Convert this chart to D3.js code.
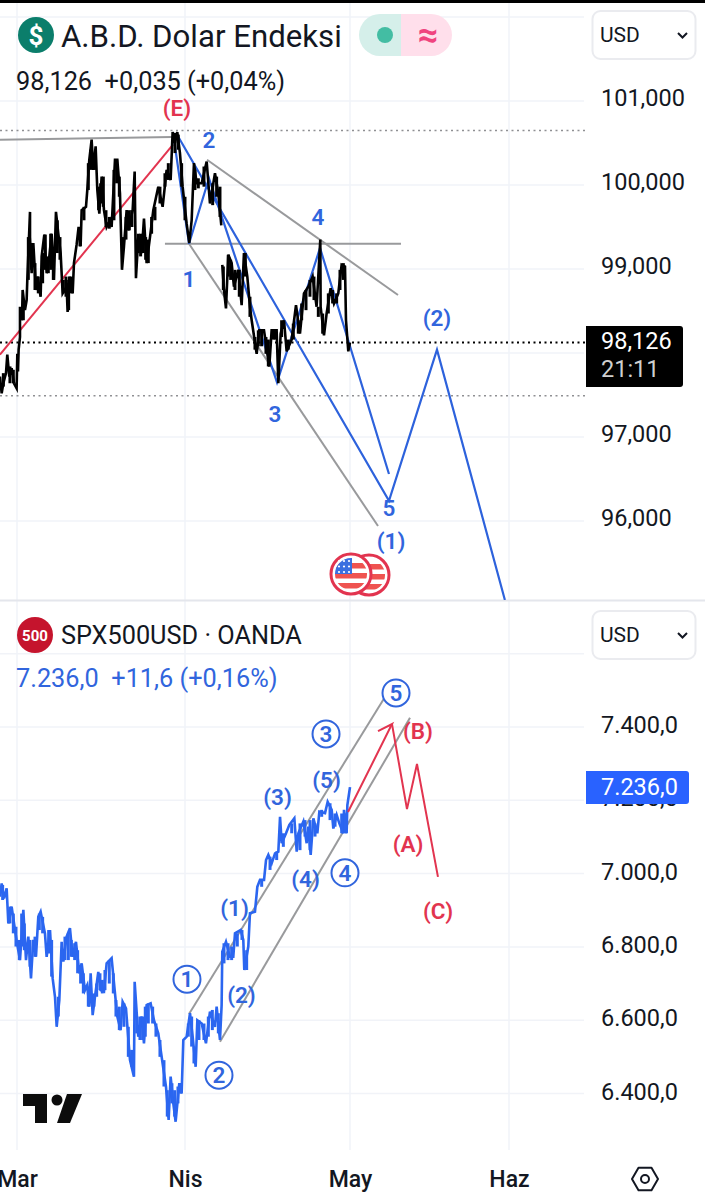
<!DOCTYPE html>
<html><head><meta charset="utf-8">
<script src="https://cdnjs.cloudflare.com/ajax/libs/d3/7.8.5/d3.min.js"></script>
<style>html,body{margin:0;padding:0;background:#fff}svg{display:block;font-family:Roboto,sans-serif}</style>
</head><body><svg id="c" width="705" height="1200"></svg>
<script>
// ---- data ----
const monthTicks = ["Mar","Nis","May","Haz"];
const monthDays = [0,31,61,92];
const usdTicks = [101,100,99,97,96];
const usdGrid = [102,101,100,99,98,97,96];
const spxTicks = [7400,7200,7000,6800,6600,6400];
const spxGrid = [7600,7400,7200,7000,6800,6600,6400];

const usdDays = [-3.14,-2.83,-2.52,-2.03,-1.79,-1.42,-0.99,-0.56,-0.07,0.06,0.18,0.30,0.55,0.55,0.92,1.04,1.47,1.78,1.90,2.40,2.40,2.70,3.01,3.50,3.75,4.36,4.55,5.04,5.47,5.90,6.39,6.82,7.19,7.62,8.05,8.42,9.16,9.34,9.65,10.27,10.51,11.0,11.37,11.74,11.93,12.73,12.97,13.34,13.77,14.08,14.51,14.82,15.19,15.62,16.05,16.54,17.15,17.46,18.08,18.51,19.0,19.37,19.74,20.23,20.54,21.34,21.71,21.95,22.38,23.0,23.43,23.92,24.54,25.15,26.07,26.87,27.61,28.35,28.72,29.15,29.58,30.07,30.56,31.3,31.78,32.21,32.63,33.12,34.03,34.94,35.54,36.45,37.06,37.6,37.7,37.78,38.09,38.45,38.87,39.48,39.9,40.69,41.3,41.72,42.33,42.81,43.12,44.03,44.51,45.36,46.33,46.75,47.66,47.97,48.39,49.0,49.48,50.39,51.18,51.9,52.63,53.42,54.21,54.93,55.6,55.66,56.27,56.75,57.48,58.09,58.87,59.48,60.09,60.27,60.69,61.0];
const usdValues = [97.72,97.52,97.64,97.76,97.98,97.72,97.82,97.64,97.58,97.99,97.78,98.04,98.19,98.55,98.39,98.75,98.51,98.63,98.87,99.68,99.38,98.95,99.31,98.75,98.91,98.67,99.15,99.41,98.95,99.11,99.42,98.87,99.68,99.42,99.19,98.71,98.79,98.49,98.91,98.71,99.07,99.29,99.50,99.27,99.70,99.74,99.94,100.30,100.54,100.18,100.46,99.94,99.66,100.10,99.70,99.50,99.58,99.50,100.30,100.30,99.90,98.99,99.27,99.70,99.46,99.70,100.16,98.89,99.38,99.19,99.60,99.07,99.38,99.70,99.98,99.74,100.18,100.06,100.63,100.50,100.63,100.38,99.98,99.54,99.31,99.58,100.26,100.02,100.02,100.28,99.78,100.14,99.90,99.52,null,99.05,98.75,98.53,99.17,99.07,98.79,98.99,98.57,99.19,98.91,98.55,98.39,97.99,98.27,98.27,97.84,98.27,98.27,97.64,98.23,98.39,98.02,98.16,98.57,98.23,98.71,98.79,98.91,98.55,99.35,98.55,98.21,98.47,98.77,98.59,98.71,99.05,99.03,98.39,98.02,98.126];
// per-session range bars
const usdBarDays = [-2.52,-1.30,-0.68,1.17,2.09,2.70,3.32,3.93,4.73,5.22,5.78,6.21,6.70,7.44,7.93,8.55,9.04,9.53,10.02,11.62,12.36,13.16,13.59,14.33,15.06,15.43,15.93,16.42,17.03,17.89,18.39,18.88,19.62,20.11,20.72,21.21,22.38,22.81,23.30,23.74,24.23,24.84,25.46,26.38,27.30,27.92,29.15,29.76,30.38,31.0,32.81,33.42,34.45,36.03,36.75,37.36,37.97,38.87,39.30,40.09,40.87,41.97,42.81,43.72,44.33,44.93,45.72,46.15,47.06,47.36,48.57,49.78,50.69,51.6,52.21,53.0,53.72,54.45,55.24,56.03,57.06,57.84,58.57,59.18,59.79];
const usdBarLow = [97.60,97.64,97.64,98.39,98.87,98.99,98.75,98.71,98.83,98.99,98.95,98.99,98.87,99.19,99.11,98.71,98.67,98.51,98.71,99.27,99.58,99.94,100.18,100.18,99.70,99.78,99.74,99.50,99.48,99.58,100.02,99.86,99.23,99.35,99.46,99.50,99.19,99.15,99.19,99.11,99.07,99.42,99.58,99.78,99.98,100.06,100.38,100.42,99.98,99.58,99.94,99.96,99.98,99.76,99.86,99.62,98.75,98.91,98.87,98.75,98.67,98.91,98.43,98.04,98.08,98.08,97.99,97.84,98.16,98.16,98.19,98.04,98.16,98.23,98.39,98.51,98.67,98.63,98.43,98.23,98.47,98.59,98.59,98.75,98.87];
const usdBarHigh = [97.76,97.84,97.80,98.63,99.38,99.31,99.07,98.91,99.19,99.41,99.15,99.42,99.23,99.58,99.38,98.87,98.91,98.87,98.91,99.50,99.74,100.26,100.42,100.38,99.98,100.02,100.10,99.70,99.62,100.18,100.30,100.10,99.38,99.62,99.70,99.70,99.42,99.42,99.42,99.38,99.35,99.62,99.74,99.98,100.14,100.26,100.62,100.60,100.26,99.86,100.18,100.08,100.22,100.02,100.10,99.98,99.03,99.17,99.11,98.99,98.99,99.19,98.67,98.19,98.27,98.27,98.19,98.16,98.27,98.27,98.39,98.16,98.35,98.39,98.59,98.75,98.87,98.91,98.55,98.47,98.71,98.75,98.71,98.99,99.07];

const spxDays = [-3.14,-2.83,-2.40,-1.91,-1.60,-0.99,-0.37,0.06,0.55,1.17,1.66,2.09,2.58,3.01,3.50,3.93,4.36,5.16,5.47,6.09,6.58,7.01,7.32,7.81,8.24,8.55,9.16,9.77,10.27,10.88,11.5,11.93,12.54,12.97,13.34,13.59,13.96,14.39,15.0,15.43,16.05,16.54,17.46,18.08,18.51,19.12,19.49,20.11,20.85,21.58,21.71,22.38,23.0,23.43,23.92,24.66,25.27,26.07,26.87,27.49,27.98,28.35,28.84,29.27,29.95,30.38,30.69,31.3,31.91,32.39,32.94,33.24,34.03,34.81,35.54,36.45,36.75,37.36,37.66,37.78,38.45,39.18,39.78,40.09,41.12,41.6,41.78,42.51,42.81,43.72,44.15,44.64,45.37,45.73,46.15,46.76,47.37,47.97,48.28,48.58,49.37,49.97,50.88,51.31,51.61,52.52,53.12,53.43,53.85,54.34,55.06,55.43,56.46,56.94,57.67,57.97,58.58,59.06,59.79,59.91,60.39,60.52,61.0];
const spxValues = [6937,6973,6932,6960,6864,6910,6846,6805,6764,6901,6764,6828,6714,6819,6773,6882,6896,6837,6773,6846,6714,6664,6582,6655,6814,6760,6828,6851,6773,6814,6728,6755,6682,6696,6637,6728,6614,6664,6732,6682,6678,6755,6769,6673,6610,6573,6650,6632,6491,6446,6705,6555,6610,6537,6641,6646,6600,6564,6482,6419,6328,6446,6373,6323,6428,6400,6546,6555,6619,6555,6473,6600,6591,6537,6623,6582,6637,6546,6641,6787,6814,6773,6773,6837,6846,6819,6737,6801,6892,6896,6964,6983,6983,7037,7051,7028,7055,7060,7155,7083,7110,7133,7151,7060,7110,7142,7083,7128,7051,7151,7110,7169,7165,7196,7174,7123,7160,7137,7110,7174,7110,7187,7236];
const spxBarDays = [-2.65,-1.30,-0.68,-0.19,0.43,0.86,1.35,2.40,3.32,4.12,4.73,5.84,6.39,7.62,8.85,9.47,10.02,10.64,11.19,11.74,12.24,13.16,14.20,14.70,15.31,15.74,16.23,17.03,17.77,18.26,18.88,19.74,20.54,21.15,22.08,22.69,23.18,23.67,24.23,25.03,25.64,26.38,27.12,27.73,28.59,29.09,29.70,30.19,31.60,32.21,32.63,33.54,34.45,35.24,35.97,37.06,38.09,38.82,39.48,40.51,41.36,42.21,44.94,46.46,47.67,48.88,50.40,51.91,52.82,53.73,54.64,55.85,57.37,58.28,59.49,60.15];
const spxBarLow = [6928,6864,6837,6801,6764,6801,6791,6746,6773,6846,6837,6782,6719,6610,6764,6764,6773,6764,6728,6700,6673,6637,6637,6664,6682,6673,6682,6700,6673,6610,6573,6582,6500,6473,6564,6546,6546,6555,6591,6591,6555,6500,6419,6337,6373,6337,6373,6400,6555,6528,6482,6546,6546,6555,6573,6564,6755,6764,6764,6801,6819,6737,6964,7010,7037,7073,7110,7064,7101,7064,7101,7155,7146,7128,7110,7110];
const spxBarHigh = [6969,6910,6891,6855,6819,6891,6864,6819,6828,6891,6882,6846,6819,6664,6828,6837,6819,6810,6791,6746,6728,6691,6673,6700,6728,6710,6737,6764,6728,6655,6637,6646,6582,6519,6610,6610,6610,6637,6646,6637,6591,6546,6491,6409,6428,6409,6419,6428,6591,6610,6528,6600,6591,6610,6628,6619,6810,6810,6801,6837,6846,6791,6983,7046,7060,7110,7137,7137,7146,7146,7137,7174,7192,7164,7164,7164];

// drawings: [day, value] pairs
const usdTopLine = [[-3.14,100.54],[28.6,100.57]];
const usdRedLine = [[-3.14,97.98],[28.78,100.48]];
const usdWaveA = [[28.78,100.63],[31.73,99.30],[35.36,100.08],[47.73,97.65],[55.55,99.25],[68.6,96.56]];
const usdWaveB = [[29.7,100.58],[68.6,96.24],[77.96,98.04],[91.2,95.06]];
const usdFlat = [[27.3,99.30],[70.94,99.30]];
const usdUpper = [[35,100.30],[70.36,98.69]];
const usdLower = [[31.73,99.30],[66.46,95.94]];
const usdHighLevel = 100.65, usdLast = 98.126, usdLowLevel = 97.49;

const spxChanUp = [[31.73,6617],[67.82,7482]];
const spxChanDown = [[37.36,6541],[72.7,7425]];
const spxArrow = [[60.64,7168],[69.19,7408],[66.46,7389]];
const spxCorr = [[69.19,7408],[72.11,7176],[74.06,7299],[78.15,6991]];

const usdLabelText = ["(E)","2","1","4","3","(2)","5","(1)"];
const usdLabelDay = [29.5,35.36,31.73,55.18,47.36,77.96,68.6,69.0];
const usdLabelVal = [100.92,100.54,98.88,99.62,97.27,98.42,96.15,95.76];
const spxCircText = ["1","2","3","4","5"];
const spxCircDay = [31.36,37.18,56.64,60.09,69.97];
const spxCircVal = [6712,6450,7381,7002,7493];
const spxBlueText = ["(1)","(2)","(3)","(4)","(5)"];
const spxBlueDay = [40,41.27,47.82,52.91,56.73];
const spxBlueVal = [6906,6669,7209,6985,7255];
const spxRedText = ["(A)","(B)","(C)"];
const spxRedDay = [72.31,74.26,78.15];
const spxRedVal = [7081,7389,6898];

// ---- scales ----
const BLUE="#2d62dc", LBL="#3165dd", RED="#e2344f", GRAY="#999a9c", SER="#2b66f0", GRID="#f1f3f8", INK="#131722";
const W=705, AX=584;
const date = d => new Date(Date.UTC(2026,2,1) + d*864e5);
const x = d3.scaleUtc().domain(monthDays.map(date)).range([17,185,350,509]);
const yU = d3.scaleLinear().domain([101,96]).range([101,521]);
const yS = d3.scaleLinear().domain([7400,6400]).range([727,1093.5]);
const svg = d3.select("#c");
const defs = svg.append("defs");
defs.append("clipPath").attr("id","pU").append("rect").attr("x",0).attr("y",3).attr("width",AX).attr("height",597);
defs.append("clipPath").attr("id","pS").append("rect").attr("x",0).attr("y",601).attr("width",AX).attr("height",549);

svg.append("rect").attr("width",W).attr("height",1200).attr("fill","#fff");

// grid
const gU = svg.append("g"), gS = svg.append("g");
gU.selectAll("line").data(usdGrid).join("line").attr("x1",0).attr("x2",AX).attr("y1",d=>yU(d)).attr("y2",d=>yU(d)).attr("stroke",GRID).attr("stroke-width",1.5);
gS.selectAll("line").data(spxGrid).join("line").attr("x1",0).attr("x2",AX).attr("y1",d=>yS(d)).attr("y2",d=>yS(d)).attr("stroke",GRID).attr("stroke-width",1.5);
svg.append("g").selectAll("line").data(monthDays).join("line").attr("x1",d=>x(date(d))).attr("x2",d=>x(date(d))).attr("y1",3).attr("y2",1150).attr("stroke",GRID).attr("stroke-width",1.5);
svg.append("rect").attr("x",0).attr("y",0).attr("width",W).attr("height",3).attr("fill","#000");
svg.append("rect").attr("x",0).attr("y",599.5).attr("width",W).attr("height",2).attr("fill","#e4e6ec");

// dotted levels
[[usdHighLevel,"#8f9093",1.5],[usdLowLevel,"#8f9093",1.5],[usdLast,"#000",2]].forEach(([v,c,w])=>{
  svg.append("line").attr("x1",0).attr("x2",AX+2).attr("y1",yU(v)).attr("y2",yU(v)).attr("stroke",c).attr("stroke-width",w).attr("stroke-dasharray","2 3.5");
});

const lineU = d3.line().x(d=>x(date(d[0]))).y(d=>yU(d[1])).defined(d=>d[1]!==null);
const lineS = d3.line().x(d=>x(date(d[0]))).y(d=>yS(d[1])).defined(d=>d[1]!==null);
const pU = svg.append("g").attr("clip-path","url(#pU)");
const pS = svg.append("g").attr("clip-path","url(#pS)");
const draw = (g,l,data,c,w)=>g.append("path").attr("d",l(data)).attr("fill","none").attr("stroke",c).attr("stroke-width",w).attr("stroke-linejoin","miter").attr("stroke-miterlimit",4);
const bars = (g,y,days,lo,hi,c)=>g.append("g").selectAll("line").data(days).join("line")
  .attr("x1",d=>x(date(d))).attr("x2",d=>x(date(d))).attr("y1",(d,i)=>y(lo[i])).attr("y2",(d,i)=>y(hi[i])).attr("stroke",c).attr("stroke-width",3);

draw(pU,lineU,usdTopLine,GRAY,2);
draw(pU,lineU,usdFlat,GRAY,2);
draw(pU,lineU,usdUpper,GRAY,2);
draw(pU,lineU,usdLower,GRAY,2);
draw(pU,lineU,usdRedLine,RED,2);
draw(pU,lineU,usdWaveA,BLUE,2.2);
draw(pU,lineU,usdWaveB,BLUE,2.2);
draw(pU,lineU,usdDays.map((d,i)=>[d,usdValues[i]]),"#000",2.6);
bars(pU,yU,usdBarDays,usdBarLow,usdBarHigh,"#000");

draw(pS,lineS,spxChanUp,GRAY,2);
draw(pS,lineS,spxChanDown,GRAY,2);
draw(pS,lineS,spxDays.map((d,i)=>[d,spxValues[i]]),SER,2.6);
bars(pS,yS,spxBarDays,spxBarLow,spxBarHigh,SER);
draw(pS,lineS,spxArrow,RED,2);
draw(pS,lineS,spxCorr,RED,2);

// wave labels
const label = (t,px,py,c,fs)=>svg.append("text").attr("x",px).attr("y",py).attr("text-anchor","middle").attr("dominant-baseline","central").attr("font-size",fs).attr("font-weight",600).attr("fill",c).text(t);
usdLabelText.forEach((t,i)=>label(t,x(date(usdLabelDay[i])),yU(usdLabelVal[i]),i==0?RED:LBL,22.5));
spxBlueText.forEach((t,i)=>label(t,x(date(spxBlueDay[i])),yS(spxBlueVal[i]),LBL,22.5));
spxRedText.forEach((t,i)=>label(t,x(date(spxRedDay[i])),yS(spxRedVal[i]),RED,22.5));
spxCircText.forEach((t,i)=>{
  const px=x(date(spxCircDay[i])), py=yS(spxCircVal[i]);
  svg.append("circle").attr("cx",px).attr("cy",py).attr("r",13.5).attr("fill","#fff").attr("stroke",LBL).attr("stroke-width",2);
  label(t,px,py,LBL,22.5);
});

// axes
const fmtU = d=>d3.format(".3f")(d).replace(".",",");
const fmtS = d=>{const s=d3.format(".1f")(d).split(".");return s[0].slice(0,-3)+"."+s[0].slice(-3)+","+s[1];};
const axU = svg.append("g").attr("transform",`translate(601,-3)`).call(d3.axisRight(yU).tickValues(usdTicks).tickSize(0).tickPadding(0).tickFormat(fmtU));
const axS = svg.append("g").attr("transform",`translate(601,-2)`).call(d3.axisRight(yS).tickValues(spxTicks).tickSize(0).tickPadding(0).tickFormat(fmtS));
[axU,axS].forEach(a=>{a.select(".domain").remove();a.selectAll("text").attr("font-size",23.5).attr("fill",INK).attr("font-family","Roboto");});
const axX = svg.append("g").attr("transform",`translate(0,1179)`).call(d3.axisBottom(x).tickValues(monthDays.map(date)).tickSize(0).tickPadding(0).tickFormat((d,i)=>monthTicks[i]));
axX.select(".domain").remove();
axX.selectAll("text").attr("font-size",23).attr("font-weight",500).attr("fill",INK).attr("font-family","Roboto").attr("dy",0).attr("y",0).attr("dominant-baseline","central");

// last-value tags
svg.append("path").attr("d","M586 326H680a3 3 0 0 1 3 3V384a3 3 0 0 1 -3 3H586Z").attr("fill","#000");
svg.append("text").attr("x",601).attr("y",341).attr("dominant-baseline","central").attr("font-size",23.5).attr("fill","#fff").text(fmtU(usdLast));
svg.append("text").attr("x",601).attr("y",369).attr("dominant-baseline","central").attr("font-size",23.5).attr("fill","#cfcfcf").text("21:11");
svg.append("path").attr("d","M586 771H686a3 3 0 0 1 3 3V801a3 3 0 0 1 -3 3H586Z").attr("fill","#2962ff");
svg.append("text").attr("x",601).attr("y",787).attr("dominant-baseline","central").attr("font-size",23.5).attr("fill","#fff").text(fmtS(7236));

// header top
svg.append("circle").attr("cx",36).attr("cy",35).attr("r",18).attr("fill","#0b7e6b");
svg.append("text").attr("x",36).attr("y",36).attr("text-anchor","middle").attr("dominant-baseline","central").attr("font-size",26).attr("font-weight",700).attr("fill","#fff").text("$");
svg.append("text").attr("x",61).attr("y",36).attr("dominant-baseline","central").attr("font-size",31.2).attr("fill",INK).text("A.B.D. Dolar Endeksi");
svg.append("path").attr("d","M380 14H401V56H380a21 21 0 0 1 0 -42Z").attr("fill","#d5efea");
svg.append("path").attr("d","M401 14H431a21 21 0 0 1 0 42H401Z").attr("fill","#ffdfeb");
svg.append("circle").attr("cx",385).attr("cy",35).attr("r",8).attr("fill","#43bda3");
svg.append("text").attr("x",428).attr("y",35).attr("text-anchor","middle").attr("dominant-baseline","central").attr("font-size",36).attr("font-weight",700).attr("fill","#f0447f").text("≈");
svg.append("text").attr("x",16).attr("y",81).attr("dominant-baseline","central").attr("font-size",25.3).attr("fill",INK).attr("xml:space","preserve").text("98,126  +0,035 (+0,04%)");

// header bottom
svg.append("circle").attr("cx",35).attr("cy",635).attr("r",18).attr("fill","#c5142d");
svg.append("text").attr("x",35).attr("y",636).attr("text-anchor","middle").attr("dominant-baseline","central").attr("font-size",15).attr("font-weight",700).attr("fill","#fff").text("500");
svg.append("text").attr("x",61).attr("y",635).attr("dominant-baseline","central").attr("font-size",25.3).attr("fill",INK).text("SPX500USD · OANDA");
svg.append("text").attr("x",16).attr("y",678).attr("dominant-baseline","central").attr("font-size",25.3).attr("fill",LBL).attr("xml:space","preserve").text("7.236,0  +11,6 (+0,16%)");

// currency boxes
[11,611].forEach(t=>{
  svg.append("rect").attr("x",592.5).attr("y",t).attr("width",103).attr("height",48).attr("rx",8).attr("fill","#fff").attr("stroke","#eaebef").attr("stroke-width",2);
  svg.append("text").attr("x",600).attr("y",t+24).attr("dominant-baseline","central").attr("font-size",21).attr("fill",INK).text("USD");
  svg.append("path").attr("d",`M678 ${t+22}l4.5 4.5l4.5 -4.5`).attr("fill","none").attr("stroke",INK).attr("stroke-width",2);
});

// flag badges
function badge(cx,cy,id,front){
  const g=svg.append("g");
  defs.append("clipPath").attr("id",id).append("circle").attr("cx",cx).attr("cy",cy).attr("r",16);
  g.append("circle").attr("cx",cx).attr("cy",cy).attr("r",20).attr("fill","#fff").attr("stroke",RED).attr("stroke-width",3);
  const f=g.append("g").attr("clip-path",`url(#${id})`);
  [-10,0,10].forEach(o=>f.append("rect").attr("x",cx-17).attr("y",cy+o-1).attr("width",34).attr("height",5.5).attr("fill","#ef5350"));
  if(front){
    f.append("rect").attr("x",cx-17).attr("y",cy-17).attr("width",18).attr("height",17).attr("fill","#3a6fe0");
    [-12,-6.5,-1].forEach(dy=>[-12,-7,-2].forEach(dx=>g.append("circle").attr("cx",cx+dx).attr("cy",cy+dy-1).attr("r",1.1).attr("fill","#fff")));
  }
}
badge(369,575,"fb",false);
badge(351,574,"ff",true);

// logo
const logo=svg.append("g").attr("fill","#0c0c0c");
logo.append("path").attr("d","M23 1094H47V1123H35V1106H23Z");
logo.append("circle").attr("cx",57).attr("cy",1100).attr("r",5.5);
logo.append("path").attr("d","M67 1094H82L70 1123H57Z");

// settings icon
svg.append("path").attr("d",d3.line()(d3.range(6).map(i=>{const a=Math.PI/3*i;return [645+13*Math.cos(a),1179+13*Math.sin(a)];}))+"Z").attr("fill","none").attr("stroke",INK).attr("stroke-width",2).attr("stroke-linejoin","round");
svg.append("circle").attr("cx",645).attr("cy",1179).attr("r",4).attr("fill","none").attr("stroke",INK).attr("stroke-width",2);
</script></body></html>
